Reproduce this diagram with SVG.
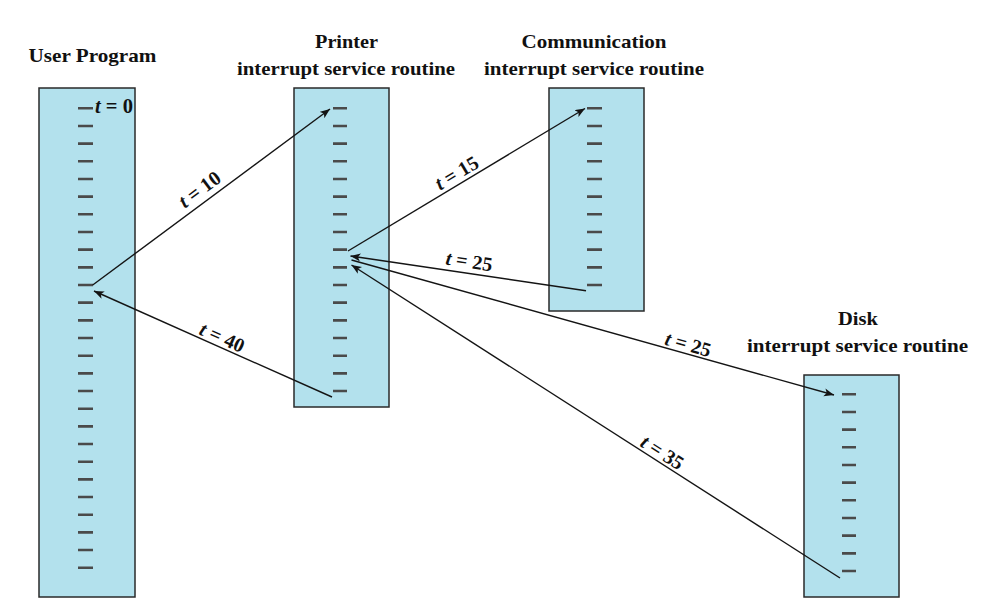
<svg xmlns="http://www.w3.org/2000/svg" width="985" height="609" viewBox="0 0 985 609">
<defs>
<style>
.box{fill:#b3e1ed;stroke:#2a2a2a;stroke-width:1.5}
.tick{stroke:#4a4a4a;stroke-width:2.6;fill:none}
.title{font-family:"Liberation Serif","Times New Roman",serif;font-weight:bold;font-size:19px;fill:#111;text-anchor:middle}
.lbl{font-family:"Liberation Serif","Times New Roman",serif;font-weight:bold;font-size:20px;fill:#111;text-anchor:middle}
.it{font-style:italic}
.arr{stroke:#141414;stroke-width:1.4;fill:none;marker-end:url(#ah)}
</style>
<marker id="ah" markerUnits="userSpaceOnUse" markerWidth="12" markerHeight="10" refX="10" refY="4" orient="auto">
<path d="M0 0L10 4L0 8L2.5 4Z" fill="#141414"/>
</marker>
</defs>
<rect width="985" height="609" fill="#fff"/>
<g id="user-program">
<text class="title" x="92.5" y="62" textLength="128" lengthAdjust="spacingAndGlyphs">User Program</text>
<rect class="box" x="39" y="88" width="96" height="509"/>
<path class="tick" d="M78 108.3h15m-15 17.67h15m-15 17.67h15m-15 17.67h15m-15 17.67h15m-15 17.67h15m-15 17.67h15m-15 17.67h15m-15 17.67h15m-15 17.67h15m-15 17.67h15m-15 17.67h15m-15 17.67h15m-15 17.67h15m-15 17.67h15m-15 17.67h15m-15 17.67h15m-15 17.67h15m-15 17.67h15m-15 17.67h15m-15 17.67h15m-15 17.67h15m-15 17.67h15m-15 17.67h15m-15 17.67h15m-15 17.67h15m-15 17.67h15"/>
<text class="lbl" x="114" y="113" textLength="38" lengthAdjust="spacingAndGlyphs"><tspan class="it">t</tspan> = 0</text>
</g>
<g id="printer-isr">
<text class="title" x="346.5" y="48" textLength="63" lengthAdjust="spacingAndGlyphs">Printer</text>
<text class="title" x="346" y="75" textLength="218" lengthAdjust="spacingAndGlyphs">interrupt service routine</text>
<rect class="box" x="294" y="88" width="95" height="319"/>
<path class="tick" d="M333 108.3h14m-14 17.67h14m-14 17.67h14m-14 17.67h14m-14 17.67h14m-14 17.67h14m-14 17.67h14m-14 17.67h14m-14 17.67h14m-14 17.67h14m-14 17.67h14m-14 17.67h14m-14 17.67h14m-14 17.67h14m-14 17.67h14m-14 17.67h14m-14 17.67h14"/>
</g>
<g id="communication-isr">
<text class="title" x="594" y="48" textLength="145" lengthAdjust="spacingAndGlyphs">Communication</text>
<text class="title" x="594" y="75" textLength="220" lengthAdjust="spacingAndGlyphs">interrupt service routine</text>
<rect class="box" x="549" y="88" width="95" height="223"/>
<path class="tick" d="M587 108.3h15m-15 17.67h15m-15 17.67h15m-15 17.67h15m-15 17.67h15m-15 17.67h15m-15 17.67h15m-15 17.67h15m-15 17.67h15m-15 17.67h15m-15 17.67h15"/>
</g>
<g id="disk-isr">
<text class="title" x="858" y="325" textLength="40" lengthAdjust="spacingAndGlyphs">Disk</text>
<text class="title" x="857.5" y="352" textLength="221" lengthAdjust="spacingAndGlyphs">interrupt service routine</text>
<rect class="box" x="804" y="375" width="95" height="222"/>
<path class="tick" d="M842 394.3h14m-14 17.67h14m-14 17.67h14m-14 17.67h14m-14 17.67h14m-14 17.67h14m-14 17.67h14m-14 17.67h14m-14 17.67h14m-14 17.67h14m-14 17.67h14"/>
</g>
<g id="connectors">
<path class="arr" d="M92.7 285L330 109"/>
<path class="arr" d="M332 397L94 291"/>
<path class="arr" d="M348 251L585 108.5"/>
<path class="arr" d="M586 290.7L350.5 256"/>
<path class="arr" d="M351.5 260L834 395"/>
<path class="arr" d="M840 578L351.5 265"/>
<text class="lbl" transform="translate(200 190) rotate(-36.6)" y="6"><tspan class="it">t</tspan> = 10</text>
<text class="lbl" transform="translate(222 338) rotate(24)" y="6"><tspan class="it">t</tspan> = 40</text>
<text class="lbl" transform="translate(457 173.5) rotate(-31)" y="6"><tspan class="it">t</tspan> = 15</text>
<text class="lbl" transform="translate(469 262) rotate(8.4)" y="6"><tspan class="it">t</tspan> = 25</text>
<text class="lbl" transform="translate(688 345) rotate(15.6)" y="6"><tspan class="it">t</tspan> = 25</text>
<text class="lbl" transform="translate(662 453) rotate(32.6)" y="6"><tspan class="it">t</tspan> = 35</text>
</g>
</svg>
